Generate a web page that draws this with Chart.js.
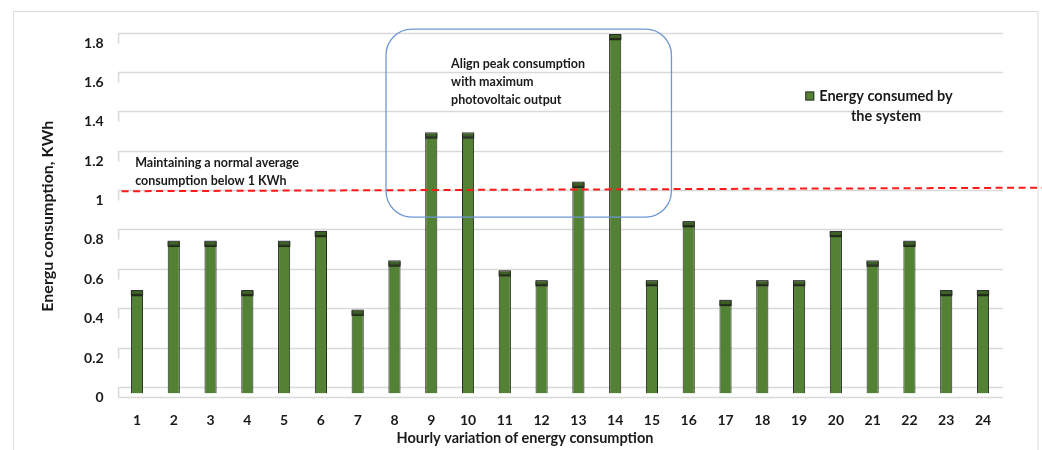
<!DOCTYPE html>
<html>
<head>
<meta charset="utf-8">
<script src="https://cdn.jsdelivr.net/npm/chart.js@4.4.1/dist/chart.umd.min.js"></script>
<style>
  html, body { margin: 0; padding: 0; background: #ffffff; }
  #wrap { width: 1042px; height: 450px; position: relative; }
</style>
</head>
<body>
<div id="wrap"><canvas id="chart" width="1042" height="450"></canvas></div>
<script>
// Hour of day and energy drawn by the system in that hour (kWh)
const hours = ['1', '2', '3', '4', '5', '6', '7', '8', '9', '10', '11', '12',
               '13', '14', '15', '16', '17', '18', '19', '20', '21', '22', '23', '24'];
const energyKWh = [0.5, 0.75, 0.75, 0.5, 0.75, 0.8, 0.4, 0.65, 1.3, 1.3, 0.6, 0.55,
                   1.05, 1.8, 0.55, 0.85, 0.45, 0.55, 0.55, 0.8, 0.65, 0.75, 0.5, 0.5];
const yTickValues = [0, 0.2, 0.4, 0.6, 0.8, 1, 1.2, 1.4, 1.6, 1.8];

const seriesLabel = 'Energy consumed by the system';
const yTitle = 'Energu consumption, KWh';
const xTitle = 'Hourly variation of energy consumption';

// Dashed "normal average" guide: level at its left end and at its right end
const averageGuide = [1.027, 1.045];
const averageNote = ['Maintaining a normal average', 'consumption below 1 KWh'];
const averageNoteAnchor = { hour: -0.05, level: 1.17 };

// Rounded frame around the peak hours (hour index range, level range)
const peakFrame = { fromHour: 6.77, toHour: 14.53, fromLevel: 0.896, toLevel: 1.85 };
const peakNote = ['Align peak consumption', 'with maximum', 'photovoltaic output'];
const peakNoteAnchor = { hour: 8.54, level: 1.673 };

const FONT = 'Lato, "Open Sans", sans-serif';
const BAR_GREEN = '#548235';
const CAP_GREEN = '#3b6224';
const GRID_GREY = '#d9d9d9';

function drawLines(ctx, lines, x, y, step) {
  lines.forEach((t, i) => ctx.fillText(t, x, y + i * step));
}

function wrapWords(ctx, text, maxWidth) {
  const words = text.split(' ');
  const out = [];
  let line = '';
  for (const w of words) {
    const test = line ? line + ' ' + w : w;
    if (ctx.measureText(test).width > maxWidth && line) { out.push(line); line = w; }
    else line = test;
  }
  if (line) out.push(line);
  return out;
}

const decorPlugin = {
  id: 'decor',
  beforeDraw(chart) {
    const { ctx, width, height } = chart;
    ctx.save();
    ctx.fillStyle = '#ffffff';
    ctx.fillRect(0, 0, width, height);
    ctx.strokeStyle = '#dcdcdc';
    ctx.lineWidth = 1;
    ctx.strokeRect(13.5, 11.5, 1024.5, height);
    ctx.restore();
  },
  beforeDatasetsDraw(chart) {
    // Back-wall gridlines with a short side-wall stub, and the front floor edge
    const { ctx, chartArea, scales: { y } } = chart;
    ctx.save();
    ctx.strokeStyle = GRID_GREY;
    ctx.lineWidth = 1.5;
    const back = -6.5, depth = 10;
    yTickValues.forEach(v => {
      const py = Math.round(y.getPixelForValue(v) + back) + 0.5;
      ctx.beginPath();
      ctx.moveTo(chartArea.right + 1.5, py);
      ctx.lineTo(chartArea.left, py);
      ctx.lineTo(chartArea.left, py + depth);
      ctx.stroke();
    });
    const fy = Math.round(y.getPixelForValue(0) + back + depth) + 0.5;
    ctx.beginPath();
    ctx.moveTo(chartArea.left, fy);
    ctx.lineTo(chartArea.right + 1.5, fy);
    ctx.stroke();
    ctx.restore();
  },
  afterDatasetsDraw(chart) {
    const { ctx, chartArea, scales: { x, y } } = chart;
    ctx.save();

    // Top faces of the bars
    const meta = chart.getDatasetMeta(0);
    meta.data.forEach(bar => {
      const w = bar.width;
      const left = bar.x - w / 2;
      ctx.fillStyle = CAP_GREEN;
      ctx.fillRect(left, bar.y - 4, w, 4);
      ctx.strokeStyle = '#2b2b2b';
      ctx.lineWidth = 1;
      ctx.strokeRect(left + 0.5, bar.y - 4.5, w - 1, 4);
      ctx.beginPath();
      ctx.moveTo(left, bar.y + 0.5);
      ctx.lineTo(left + w, bar.y + 0.5);
      ctx.lineWidth = 1.5;
      ctx.strokeStyle = '#1f2a16';
      ctx.stroke();
    });

    // Dashed average guide, running out to the right edge
    ctx.beginPath();
    ctx.setLineDash([7, 4.5]);
    ctx.lineWidth = 2;
    ctx.strokeStyle = '#ff1a1a';
    ctx.moveTo(chartArea.left + 3, y.getPixelForValue(averageGuide[0]));
    ctx.lineTo(chart.width, y.getPixelForValue(averageGuide[1]));
    ctx.stroke();
    ctx.setLineDash([]);

    // Rounded frame around the peak hours
    const fx0 = x.getPixelForValue(peakFrame.fromHour);
    const fx1 = x.getPixelForValue(peakFrame.toHour);
    const fy0 = y.getPixelForValue(peakFrame.toLevel);
    const fy1 = y.getPixelForValue(peakFrame.fromLevel);
    ctx.beginPath();
    ctx.roundRect(fx0, fy0, fx1 - fx0, fy1 - fy0, 26);
    ctx.lineWidth = 1.3;
    ctx.strokeStyle = '#6f97d6';
    ctx.stroke();

    // Notes
    ctx.fillStyle = '#1a1a1a';
    ctx.textBaseline = 'middle';
    ctx.textAlign = 'left';
    ctx.font = `bold 12.5px ${FONT}`;
    drawLines(ctx, peakNote, x.getPixelForValue(peakNoteAnchor.hour), y.getPixelForValue(peakNoteAnchor.level), 18);
    drawLines(ctx, averageNote, x.getPixelForValue(averageNoteAnchor.hour), y.getPixelForValue(averageNoteAnchor.level), 18);

    // Legend
    ctx.font = `bold 14.5px ${FONT}`;
    const legendLines = wrapWords(ctx, seriesLabel, 145);
    const cx = 886, ly = 96;
    ctx.textAlign = 'center';
    drawLines(ctx, legendLines, cx, ly, 20);
    const firstW = ctx.measureText(legendLines[0]).width;
    const sx = cx - firstW / 2 - 14;
    ctx.fillStyle = chart.data.datasets[0].backgroundColor;
    ctx.fillRect(sx, ly - 4.5, 9, 9);
    ctx.strokeStyle = '#333';
    ctx.lineWidth = 1;
    ctx.strokeRect(sx + 0.5, ly - 4, 8, 8);

    // X axis title
    ctx.fillStyle = '#1a1a1a';
    ctx.font = `bold 14.5px ${FONT}`;
    ctx.fillText(xTitle, 525, 438);
    ctx.restore();
  }
};

new Chart(document.getElementById('chart'), {
  type: 'bar',
  data: {
    labels: hours,
    datasets: [{
      label: seriesLabel,
      data: energyKWh,
      backgroundColor: BAR_GREEN,
      borderColor: '#222222',
      borderWidth: 1,
      barPercentage: 1,
      categoryPercentage: 0.33
    }]
  },
  options: {
    responsive: false,
    animation: false,
    layout: { padding: { top: 39, right: 40.6, left: 0, bottom: 0 } },
    plugins: {
      legend: { display: false },
      tooltip: { enabled: false }
    },
    scales: {
      x: {
        grid: { display: false, drawTicks: false },
        border: { display: false },
        ticks: {
          color: '#1a1a1a',
          padding: 19,
          maxRotation: 0,
          font: { family: FONT, size: 14, weight: 'bold' }
        },
        afterFit(scale) { scale.height = 56.5; }
      },
      y: {
        min: 0,
        max: 1.8,
        grid: { display: false, drawTicks: false },
        border: { display: false },
        afterBuildTicks(scale) { scale.ticks = yTickValues.map(v => ({ value: v })); },
        ticks: {
          color: '#1a1a1a',
          padding: 15,
          labelOffset: 4,
          font: { family: FONT, size: 14, weight: 'bold' },
          callback: (v) => String(v)
        },
        title: {
          display: true,
          text: yTitle,
          color: '#1a1a1a',
          padding: { top: 38, bottom: 0 },
          font: { family: FONT, size: 16, weight: 'bold' }
        },
        afterFit(scale) { scale.width = 118.6; }
      }
    }
  },
  plugins: [decorPlugin]
});
</script>
</body>
</html>
